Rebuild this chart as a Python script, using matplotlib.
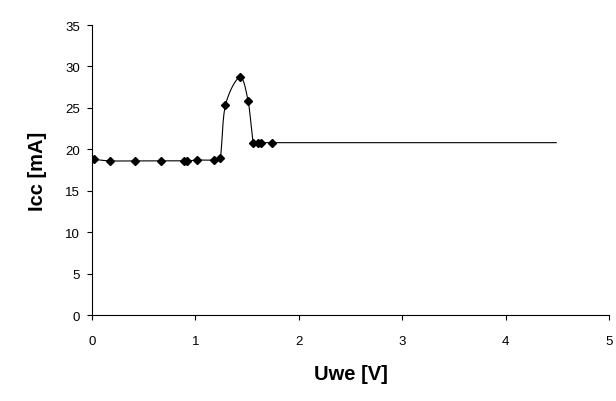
import matplotlib.pyplot as plt
import numpy as np

plt.rcParams['font.family'] = ['Liberation Sans', 'DejaVu Sans']

uwe = [0.02, 0.17, 0.42, 0.67, 0.89, 0.915, 1.02, 1.18, 1.24, 1.29, 1.43, 1.51, 1.56, 1.61, 1.63, 1.74, 4.49]
icc = [18.8, 18.6, 18.6, 18.6, 18.6, 18.6, 18.7, 18.7, 18.9, 25.3, 28.7, 25.8, 20.8, 20.8, 20.8, 20.8, 20.8]
n_marker = 16  # letzter Punkt ohne Marker

x_ticks = [0, 1, 2, 3, 4, 5]
y_ticks = [0, 5, 10, 15, 20, 25, 30, 35]


def glatt(ax, x, y, n=40):
    # Bezier-Glättung wie Excel, in Pixelkoordinaten gerechnet
    p = ax.transData.transform(np.column_stack([x, y]))
    p = np.vstack([p[0], p, p[-1]])
    out = []
    for i in range(1, len(p) - 2):
        p0, p1, p2, p3 = p[i - 1], p[i], p[i + 1], p[i + 2]
        d12 = np.hypot(*(p2 - p1))
        l1 = (p2 - p0) / 6
        l2 = (p3 - p1) / 6
        # Kontrollarme auf halbe Segmentlänge begrenzen
        if np.hypot(*l1) > d12 / 2:
            l1 = l1 * (d12 / 2) / np.hypot(*l1)
        if np.hypot(*l2) > d12 / 2:
            l2 = l2 * (d12 / 2) / np.hypot(*l2)
        c1 = p1 + l1
        c2 = p2 - l2
        t = np.linspace(0, 1, n)[:, None]
        seg = (1 - t) ** 3 * p1 + 3 * (1 - t) ** 2 * t * c1 + 3 * (1 - t) * t ** 2 * c2 + t ** 3 * p2
        out.append(seg)
    out = ax.transData.inverted().transform(np.vstack(out))
    return out[:, 0], out[:, 1]


fig = plt.figure(figsize=(6.16, 4.02), dpi=100)
ax = fig.add_axes([0.1494, 0.2139, 0.8392, 0.7214])
ax.set_xlim(0, 5)
ax.set_ylim(0, 35)

sx, sy = glatt(ax, uwe, icc)
ax.plot(sx, sy, color='black', linewidth=0.8)
ax.plot(uwe[:n_marker], icc[:n_marker], linestyle='none', marker='D',
        markersize=3.8, color='black')

ax.set_xticks(x_ticks)
ax.set_yticks(y_ticks)
ax.tick_params(direction='out', length=3.6, width=0.8, labelsize=9.5)
ax.tick_params(axis='y', pad=5)
ax.tick_params(axis='x', pad=11)

for s in ['top', 'right']:
    ax.spines[s].set_visible(False)
for s in ['left', 'bottom']:
    ax.spines[s].set_linewidth(0.8)

ax.set_xlabel('Uwe [V]', fontsize=14.5, fontweight='bold', va='center')
ax.set_ylabel('Icc [mA]', fontsize=14.5, fontweight='bold', va='center')
ax.xaxis.set_label_coords(0.5, -0.203)
ax.yaxis.set_label_coords(-0.106, 0.5)

fig.savefig('out.png', dpi=100)
